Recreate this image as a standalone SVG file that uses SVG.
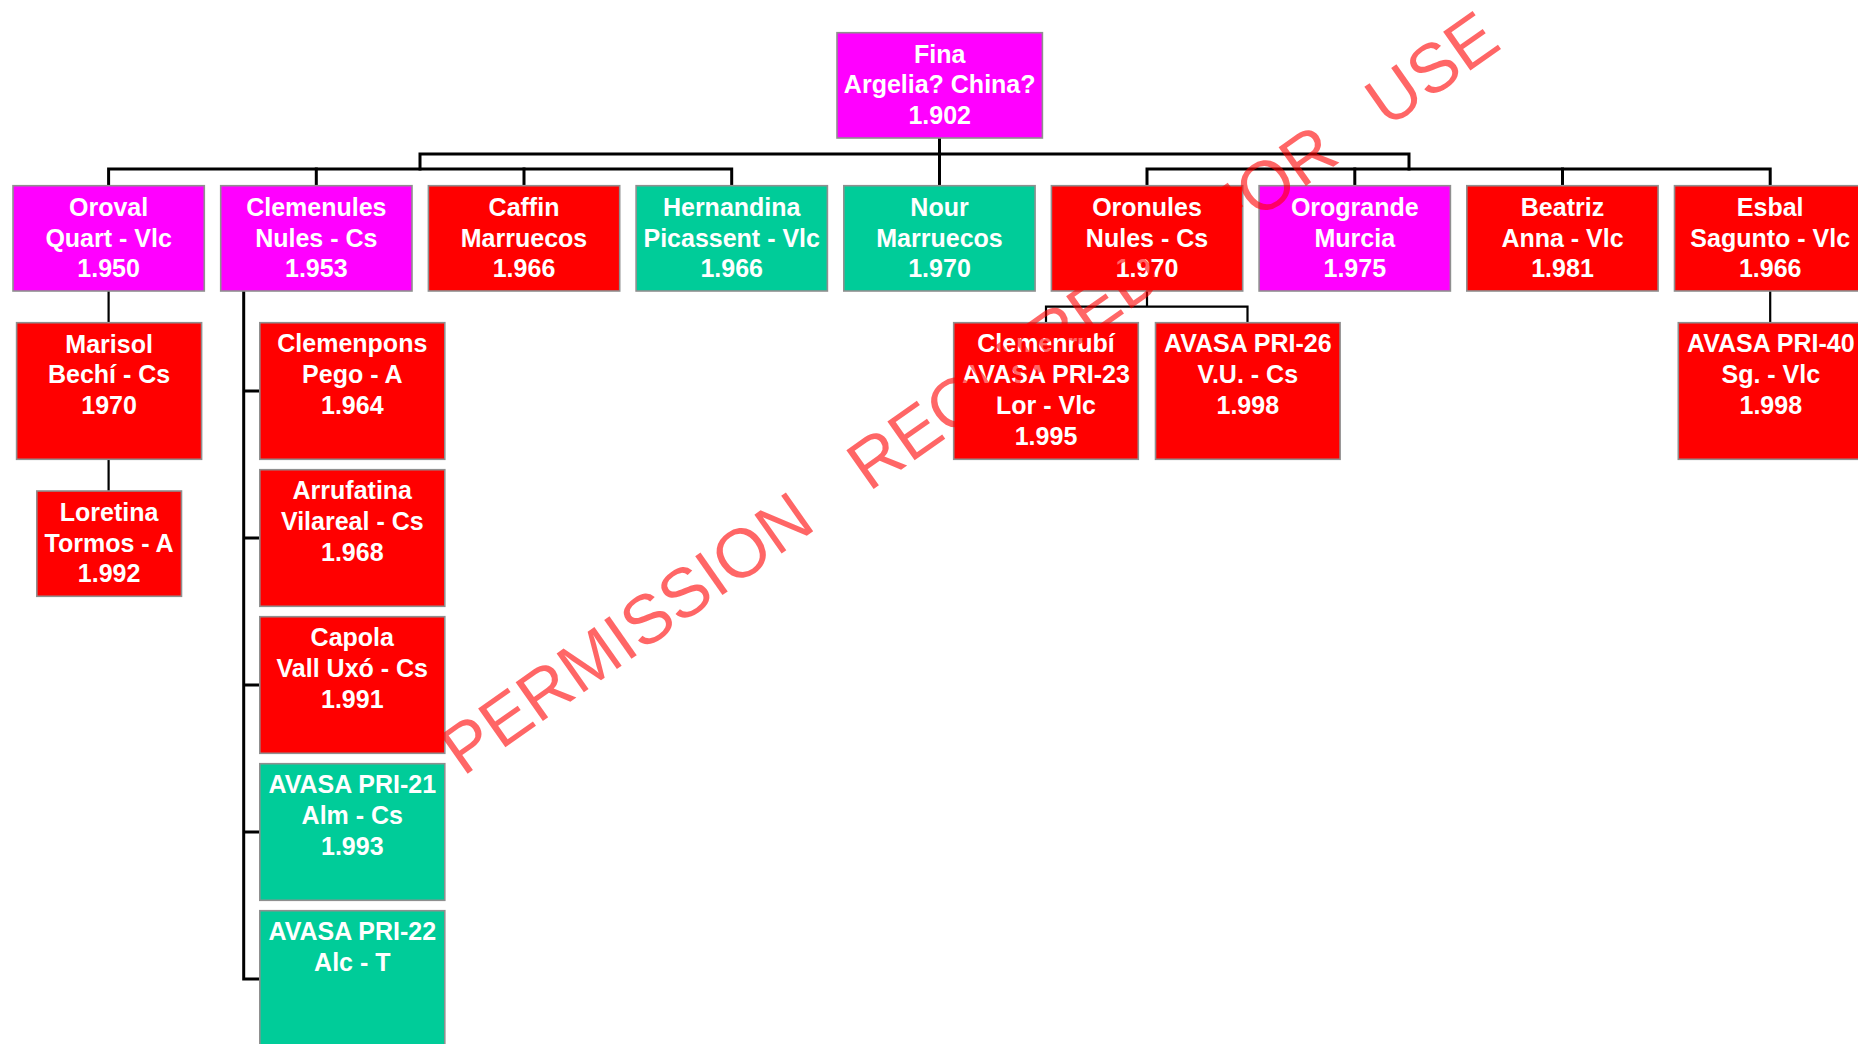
<svg xmlns="http://www.w3.org/2000/svg" width="1858" height="1044" viewBox="0 0 1858 1044">
<style>
  .box { stroke: #8f8f8f; stroke-width: 1.6; }
  .mag { fill: #FF00FF; }
  .red { fill: #FF0000; }
  .grn { fill: #00CC99; }
  .lbl { font-family: "Liberation Sans", Arial, sans-serif; font-weight: bold; font-size: 25px; fill: #FFFFFF; text-anchor: middle; }
  .thick { stroke: #000; stroke-width: 3; fill: none; stroke-linecap: square; }
  .thin { stroke: #000; stroke-width: 2.2; fill: none; }
  .wm { font-family: "Liberation Sans", Arial, sans-serif; font-size: 69px; fill: #FF0000; fill-opacity: 0.6; }
</style>
<rect width="1858" height="1044" fill="#FFFFFF"/>

<g id="connectors">
  <path class="thick" d="M939.5 138 V185.7"/>
  <path class="thick" d="M420 169 V154 H1409 V169"/>
  <path class="thick" d="M108.6 185.7 V169 H731.7 V185.7"/>
  <path class="thick" d="M316.3 169 V185.7 M524 169 V185.7"/>
  <path class="thick" d="M1147 185.7 V169 H1770.2 V185.7"/>
  <path class="thick" d="M1354.8 169 V185.7 M1562.5 169 V185.7"/>
  <path class="thin" d="M108.6 291 V322.7 M108.6 459.3 V491"/>
  <path class="thin" d="M1770.2 291 V322.7"/>
  <path class="thin" d="M1147 291 V306.7 M1046 322.7 V306.7 H1247.5 V322.7"/>
  <path class="thick" d="M243.7 291 V979 M243.7 391 H259.8 M243.7 538 H259.8 M243.7 685 H259.8 M243.7 832 H259.8 M243.7 979 H259.8"/>
</g>

<g id="fina">
  <rect class="box mag" x="837" y="32.7" width="205.4" height="105.3"/>
  <text class="lbl" x="939.7"><tspan x="939.7" y="62.5">Fina</tspan><tspan x="939.7" y="93.2">Argelia? China?</tspan><tspan x="939.7" y="123.9">1.902</tspan></text>
</g>

<g id="oroval">
  <rect class="box mag" x="13" y="185.7" width="191.3" height="105.3"/>
  <text class="lbl"><tspan x="108.6" y="216">Oroval</tspan><tspan x="108.6" y="246.7">Quart - Vlc</tspan><tspan x="108.6" y="277.4">1.950</tspan></text>
</g>
<g id="clemenules">
  <rect class="box mag" x="220.7" y="185.7" width="191.3" height="105.3"/>
  <text class="lbl"><tspan x="316.3" y="216">Clemenules</tspan><tspan x="316.3" y="246.7">Nules - Cs</tspan><tspan x="316.3" y="277.4">1.953</tspan></text>
</g>
<g id="caffin">
  <rect class="box red" x="428.4" y="185.7" width="191.3" height="105.3"/>
  <text class="lbl"><tspan x="524" y="216">Caffin</tspan><tspan x="524" y="246.7">Marruecos</tspan><tspan x="524" y="277.4">1.966</tspan></text>
</g>
<g id="hernandina">
  <rect class="box grn" x="636.1" y="185.7" width="191.3" height="105.3"/>
  <text class="lbl"><tspan x="731.7" y="216">Hernandina</tspan><tspan x="731.7" y="246.7">Picassent - Vlc</tspan><tspan x="731.7" y="277.4">1.966</tspan></text>
</g>
<g id="nour">
  <rect class="box grn" x="843.8" y="185.7" width="191.3" height="105.3"/>
  <text class="lbl"><tspan x="939.5" y="216">Nour</tspan><tspan x="939.5" y="246.7">Marruecos</tspan><tspan x="939.5" y="277.4">1.970</tspan></text>
</g>
<g id="oronules">
  <rect class="box red" x="1051.4" y="185.7" width="191.3" height="105.3"/>
  <text class="lbl"><tspan x="1147" y="216">Oronules</tspan><tspan x="1147" y="246.7">Nules - Cs</tspan><tspan x="1147" y="277.4">1.970</tspan></text>
</g>
<g id="orogrande">
  <rect class="box mag" x="1259.1" y="185.7" width="191.3" height="105.3"/>
  <text class="lbl"><tspan x="1354.8" y="216">Orogrande</tspan><tspan x="1354.8" y="246.7">Murcia</tspan><tspan x="1354.8" y="277.4">1.975</tspan></text>
</g>
<g id="beatriz">
  <rect class="box red" x="1466.8" y="185.7" width="191.3" height="105.3"/>
  <text class="lbl"><tspan x="1562.5" y="216">Beatriz</tspan><tspan x="1562.5" y="246.7">Anna - Vlc</tspan><tspan x="1562.5" y="277.4">1.981</tspan></text>
</g>
<g id="esbal">
  <rect class="box red" x="1674.5" y="185.7" width="191.3" height="105.3"/>
  <text class="lbl"><tspan x="1770.2" y="216">Esbal</tspan><tspan x="1770.2" y="246.7">Sagunto - Vlc</tspan><tspan x="1770.2" y="277.4">1.966</tspan></text>
</g>

<g id="marisol">
  <rect class="box red" x="16.6" y="322.7" width="185" height="136.6"/>
  <text class="lbl"><tspan x="109.1" y="352.5">Marisol</tspan><tspan x="109.1" y="383.3">Bechí - Cs</tspan><tspan x="109.1" y="414.1">1970</tspan></text>
</g>
<g id="loretina">
  <rect class="box red" x="36.8" y="491" width="144.7" height="105.3"/>
  <text class="lbl"><tspan x="109.1" y="520.8">Loretina</tspan><tspan x="109.1" y="551.5">Tormos - A</tspan><tspan x="109.1" y="582.2">1.992</tspan></text>
</g>
<g id="clemenpons">
  <rect class="box red" x="259.8" y="322.7" width="185" height="136.6"/>
  <text class="lbl"><tspan x="352.3" y="352">Clemenpons</tspan><tspan x="352.3" y="382.8">Pego - A</tspan><tspan x="352.3" y="413.6">1.964</tspan></text>
</g>
<g id="arrufatina">
  <rect class="box red" x="259.8" y="469.7" width="185" height="136.6"/>
  <text class="lbl"><tspan x="352.3" y="499">Arrufatina</tspan><tspan x="352.3" y="529.8">Vilareal - Cs</tspan><tspan x="352.3" y="560.6">1.968</tspan></text>
</g>
<g id="capola">
  <rect class="box red" x="259.8" y="616.7" width="185" height="136.6"/>
  <text class="lbl"><tspan x="352.3" y="646">Capola</tspan><tspan x="352.3" y="676.8">Vall Uxó - Cs</tspan><tspan x="352.3" y="707.6">1.991</tspan></text>
</g>
<g id="pri21">
  <rect class="box grn" x="259.8" y="763.7" width="185" height="136.6"/>
  <text class="lbl"><tspan x="352.3" y="793">AVASA PRI-21</tspan><tspan x="352.3" y="823.8">Alm - Cs</tspan><tspan x="352.3" y="854.6">1.993</tspan></text>
</g>
<g id="pri22">
  <rect class="box grn" x="259.8" y="910.7" width="185" height="136.6"/>
  <text class="lbl"><tspan x="352.3" y="940">AVASA PRI-22</tspan><tspan x="352.3" y="970.8">Alc - T</tspan></text>
</g>
<g id="clemenrubi">
  <rect class="box red" x="953.7" y="322.7" width="184.6" height="136.6"/>
  <text class="lbl"><tspan x="1046" y="352">Clemenrubí</tspan><tspan x="1046" y="383">AVASA PRI-23</tspan><tspan x="1046" y="414">Lor - Vlc</tspan><tspan x="1046" y="445">1.995</tspan></text>
</g>
<g id="pri26">
  <rect class="box red" x="1155.5" y="322.7" width="184.6" height="136.6"/>
  <text class="lbl"><tspan x="1247.8" y="352">AVASA PRI-26</tspan><tspan x="1247.8" y="383">V.U. - Cs</tspan><tspan x="1247.8" y="414">1.998</tspan></text>
</g>
<g id="pri40">
  <rect class="box red" x="1678.3" y="322.7" width="185" height="136.6"/>
  <text class="lbl"><tspan x="1770.8" y="352">AVASA PRI-40</tspan><tspan x="1770.8" y="383">Sg. - Vlc</tspan><tspan x="1770.8" y="414">1.998</tspan></text>
</g>

<g id="watermark" transform="translate(463 777) rotate(-35.04)">
  <text class="wm" x="0" y="0">PERMISSION</text>
  <text class="wm" x="496" y="0">REQUIRED</text>
  <text class="wm" x="928" y="0">FOR</text>
  <text class="wm" x="1129" y="0">USE</text>
</g>
</svg>
